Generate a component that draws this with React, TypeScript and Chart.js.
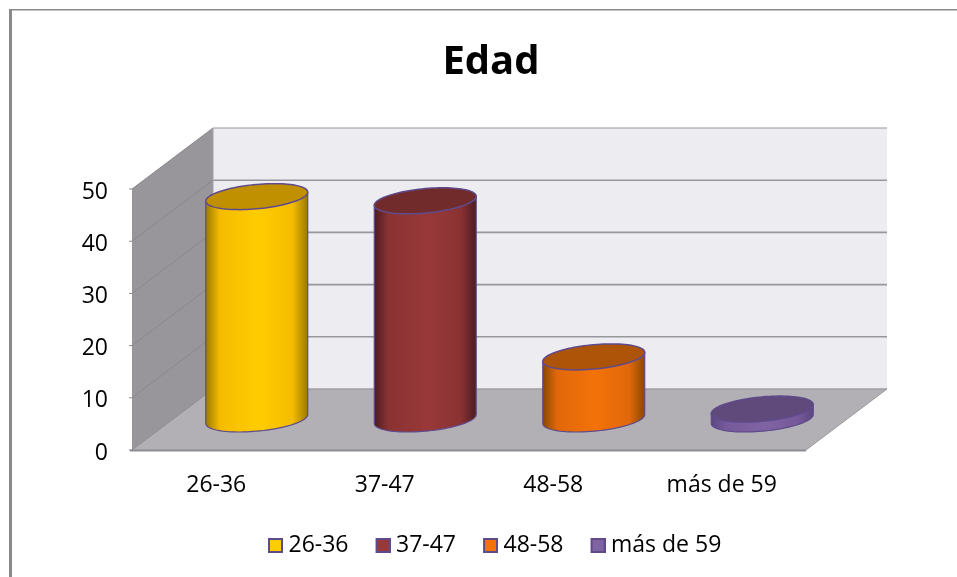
import React, { useEffect, useRef } from "react";
import { Chart, registerables } from "chart.js";

Chart.register(...registerables);

const categories = ["26-36", "37-47", "48-58", "más de 59"];
const values = [42.6, 41.8, 11.9, 1.9];
const tickValues = [0, 10, 20, 30, 40, 50];
const titleText = "Edad";

const faceColors = ["#FFCC00", "#993838", "#F47209", "#8064A2"];
const midColors = ["#F5BC00", "#8A3233", "#E0680A", "#75599A"];
const edgeColors = ["#9C7A00", "#4C1C20", "#8A4800", "#5B4780"];
const topColors = ["#C09000", "#722B2B", "#AD5409", "#604A7B"];

const OUTLINE = "#5F4A8B";
const FONT = "'Open Sans', sans-serif";
const DEPTH_X = 81;
const DEPTH_Y = -61;
const BAR_DX = 40.5;
const BAR_DY = -31;
const RY = 12.2;
const SHEAR = 4.5;

function ellipsePoint(cx: number, cy: number, rx: number, t: number) {
  return [cx + rx * Math.cos(t), cy + RY * Math.sin(t) - SHEAR * Math.cos(t)];
}

function legendSwatch(color: string) {
  const c = document.createElement("canvas");
  c.width = 21;
  c.height = 15;
  const g = c.getContext("2d")!;
  g.fillStyle = color;
  g.fillRect(6, 0, 15, 15);
  g.strokeStyle = OUTLINE;
  g.lineWidth = 2;
  g.strokeRect(7, 1, 13, 13);
  return c;
}

const scene = {
  id: "scene",
  afterLayout(chart: any) {
    chart.titleBlock.left = 102;
    chart.titleBlock.right = 880;
    chart.legend.left = 268 - 27;
    chart.legend.right = 760;
    chart.legend.top -= 10;
    chart.legend.bottom -= 10;
    chart.scales.y.getLabelItems().forEach((item: any) => {
      item.options.translation[1] += 3;
    });
  },
  beforeDraw(chart: any) {
    const ctx = chart.ctx;
    ctx.save();
    ctx.fillStyle = "#FFFFFF";
    ctx.fillRect(0, 0, chart.width, chart.height);
    ctx.fillStyle = "#8A8A8A";
    ctx.fillRect(9, 9, 3, chart.height - 9);
    ctx.fillRect(9, 9, chart.width - 9, 1.5);
    ctx.restore();
  },
  beforeDatasetsDraw(chart: any) {
    const { ctx, scales } = chart;
    const y = scales.y;
    const { left, right, top, bottom } = chart.chartArea;
    const poly = (pts: number[][], fill: string) => {
      ctx.beginPath();
      pts.forEach((p, i) => (i ? ctx.lineTo(p[0], p[1]) : ctx.moveTo(p[0], p[1])));
      ctx.closePath();
      ctx.fillStyle = fill;
      ctx.fill();
    };
    const bx = DEPTH_X;
    const by = DEPTH_Y;
    ctx.save();
    poly([[left + bx, top + by], [right + bx, top + by], [right + bx, bottom + by], [left + bx, bottom + by]], "#EDECF1");
    poly([[left, top], [left + bx, top + by], [left + bx, bottom + by], [left, bottom]], "#98969B");
    poly([[left, bottom], [left + bx, bottom + by], [right + bx, bottom + by], [right, bottom]], "#B2B0B5");
    tickValues.forEach((v) => {
      const py = y.getPixelForValue(v);
      ctx.beginPath();
      ctx.moveTo(left - 3, py);
      ctx.lineTo(left, py);
      ctx.lineTo(left + bx, py + by);
      ctx.strokeStyle = "#8A888D";
      ctx.lineWidth = 1;
      ctx.stroke();
      ctx.beginPath();
      ctx.moveTo(left + bx, py + by);
      ctx.lineTo(right + bx, py + by);
      ctx.strokeStyle = v === 0 ? "#A09EA3" : "#98989C";
      ctx.lineWidth = v === 50 ? 1 : 1.6;
      ctx.stroke();
    });
    ctx.beginPath();
    ctx.moveTo(left - 2, bottom + 0.5);
    ctx.lineTo(right, bottom + 0.5);
    ctx.strokeStyle = "#8E8C90";
    ctx.lineWidth = 2;
    ctx.stroke();
    ctx.beginPath();
    ctx.moveTo(right, bottom);
    ctx.lineTo(right + bx, bottom + by);
    ctx.strokeStyle = "#9C9A9E";
    ctx.lineWidth = 1;
    ctx.stroke();
    ctx.beginPath();
    ctx.moveTo(left + bx, top + by);
    ctx.lineTo(left + bx, bottom + by);
    ctx.strokeStyle = "#A4A2A7";
    ctx.lineWidth = 1;
    ctx.stroke();
    ctx.restore();
  },
  beforeDatasetDraw(chart: any, args: any) {
    const ctx = chart.ctx;
    args.meta.data.forEach((bar: any, i: number) => {
      const cx = bar.x + BAR_DX;
      const ty = bar.y + BAR_DY;
      const byy = bar.base + BAR_DY;
      const rx = bar.width / 2;
      ctx.save();
      ctx.beginPath();
      let p = ellipsePoint(cx, ty, rx, Math.PI);
      ctx.moveTo(p[0], p[1]);
      for (let k = 0; k <= 48; k++) {
        const t = Math.PI - (k / 48) * Math.PI;
        p = ellipsePoint(cx, byy, rx, t);
        ctx.lineTo(p[0], p[1]);
      }
      p = ellipsePoint(cx, ty, rx, 0);
      ctx.lineTo(p[0], p[1]);
      ctx.closePath();
      const g = ctx.createLinearGradient(cx - rx, 0, cx + rx, 0);
      g.addColorStop(0, edgeColors[i]);
      g.addColorStop(0.14, midColors[i]);
      g.addColorStop(0.52, faceColors[i]);
      g.addColorStop(0.85, midColors[i]);
      g.addColorStop(1, edgeColors[i]);
      ctx.fillStyle = g;
      ctx.fill();
      ctx.strokeStyle = OUTLINE;
      ctx.lineWidth = 1.2;
      ctx.stroke();
      ctx.beginPath();
      for (let k = 0; k <= 96; k++) {
        p = ellipsePoint(cx, ty, rx, (k / 96) * Math.PI * 2);
        if (k) ctx.lineTo(p[0], p[1]);
        else ctx.moveTo(p[0], p[1]);
      }
      ctx.closePath();
      ctx.fillStyle = topColors[i];
      ctx.fill();
      ctx.lineWidth = 1.5;
      ctx.stroke();
      ctx.restore();
    });
    return false;
  },
};

export default function App() {
  const ref = useRef<HTMLCanvasElement>(null);
  useEffect(() => {
    const chart = new Chart(ref.current!, {
      type: "bar",
      data: {
        labels: categories,
        datasets: [
          {
            label: titleText,
            data: values,
            backgroundColor: faceColors,
            borderColor: OUTLINE,
            barPercentage: 0.605,
            categoryPercentage: 1,
          },
        ],
      },
      plugins: [scene],
      options: {
        responsive: false,
        animation: false,
        layout: { padding: { left: 0, right: 151, top: 0, bottom: 0 } },
        plugins: {
          tooltip: { enabled: false },
          title: {
            display: true,
            text: titleText,
            color: "#000000",
            font: { family: FONT, size: 40, weight: "bold", lineHeight: 1.2 },
            padding: { top: 39, bottom: 102 },
          },
          legend: {
            display: true,
            position: "bottom",
            align: "start",
            labels: {
              usePointStyle: true,
              boxWidth: 9,
              boxHeight: 15,
              padding: 27,
              color: "#000000",
              font: { family: FONT, size: 23 },
              generateLabels: () =>
                categories.map((c, i) => ({
                  text: c,
                  fillStyle: faceColors[i],
                  strokeStyle: OUTLINE,
                  lineWidth: 0,
                  pointStyle: legendSwatch(faceColors[i]),
                  hidden: false,
                  index: i,
                  datasetIndex: 0,
                })),
            },
          },
        },
        scales: {
          x: {
            grid: { display: false, drawTicks: false },
            border: { display: false },
            ticks: { color: "#000000", font: { family: FONT, size: 23 }, padding: 22, maxRotation: 0 },
            afterFit: (s: any) => {
              s.height = 67;
            },
          },
          y: {
            min: 0,
            max: 50,
            grid: { display: false, drawTicks: false },
            border: { display: false },
            ticks: {
              stepSize: 10,
              color: "#000000",
              font: { family: FONT, size: 23 },
              padding: 24,
            },
            afterFit: (s: any) => {
              s.width = 132;
            },
          },
        },
      },
    } as any);
    return () => chart.destroy();
  }, []);
  return (
    <div style={{ position: "absolute", left: 0, top: 0, width: 957, height: 577 }}>
      <canvas ref={ref} width={957} height={577} style={{ display: "block" }} />
    </div>
  );
}
